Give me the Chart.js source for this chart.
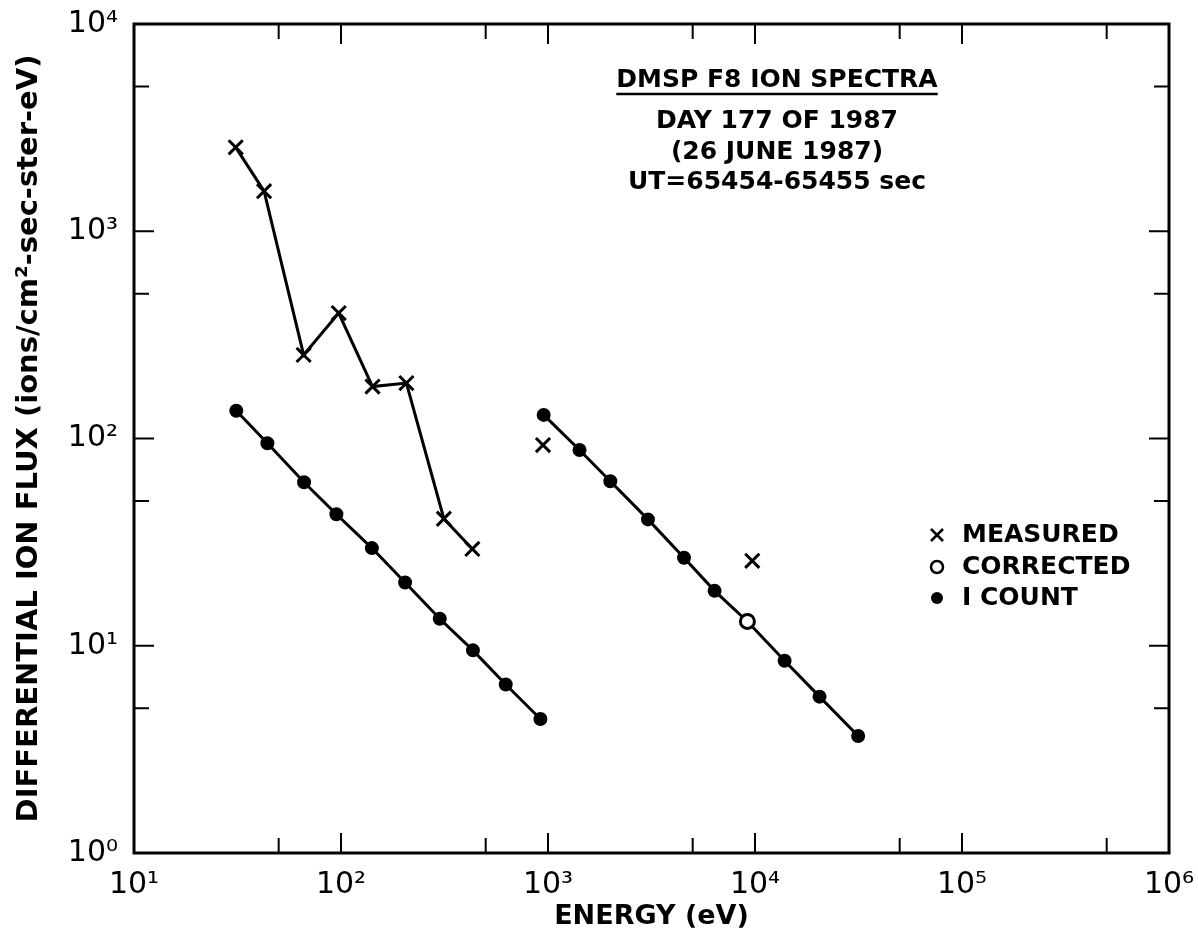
<!DOCTYPE html>
<html>
<head>
<meta charset="utf-8">
<title>DMSP F8 ion spectra</title>
<script src="https://cdn.jsdelivr.net/npm/chart.js@4"></script>
<style>
  html, body { margin: 0; padding: 0; background: #fff; }
  #wrap { width: 1198px; height: 943px; }
</style>
</head>
<body>
<div id="wrap"><canvas id="spectra" width="1198" height="943"></canvas></div>
<script>
// values (energy in eV, flux in ions/cm2-sec-ster-eV)
const measuredEnergy = [31, 42.5, 66, 97.5, 142, 207, 314, 431];
const measuredFlux = [2540, 1560, 253, 403, 178, 185, 41, 29.3];
const measuredLoneEnergy = [946, 9700];
const measuredLoneFlux = [93, 25.7];

const countLowEnergy = [31.2, 44.1, 66.3, 95, 141, 204, 300, 434, 625, 919];
const countLowFlux = [136, 94.8, 61.5, 43.1, 29.6, 20.2, 13.5, 9.5, 6.5, 4.43];
const countHighEnergy = [953, 1420, 2000, 3040, 4540, 6380, 9190, 13900, 20500, 31500];
const countHighFlux = [130, 88, 62.2, 40.7, 26.6, 18.4, 13.1, 8.47, 5.68, 3.67];

const correctedEnergy = [9190];
const correctedFlux = [13.1];

// axis decades
const xDecades = [1, 2, 3, 4, 5, 6];
const yDecades = [0, 1, 2, 3, 4];
const supDigits = ['⁰', '¹', '²', '³', '⁴', '⁵', '⁶'];

const titleLines = ['DMSP F8 ION SPECTRA', 'DAY 177 OF 1987', '(26 JUNE 1987)', 'UT=65454-65455 sec'];
const legendLabels = ['MEASURED', 'CORRECTED', 'I COUNT'];

const FONT = '"DejaVu Sans", sans-serif';
const INK = '#000';

function toPoints(xs, ys) {
  return xs.map((x, i) => ({ x: x, y: ys[i] }));
}

function decadeLabel(v) {
  const n = Math.round(Math.log10(v));
  return '10' + supDigits[n];
}

// frame with inward ticks on all four sides
const frameTicks = {
  id: 'frameTicks',
  afterDatasetsDraw(chart) {
    const { ctx, chartArea: a, scales } = chart;
    ctx.save();
    ctx.strokeStyle = INK;
    ctx.lineWidth = 3;
    ctx.strokeRect(a.left, a.top, a.right - a.left, a.bottom - a.top);
    ctx.lineWidth = 2;
    ctx.beginPath();
    xDecades.forEach(d => {
      [[Math.pow(10, d), 20], [5 * Math.pow(10, d), 15]].forEach(([v, len]) => {
        if (v > scales.x.max) return;
        const px = scales.x.getPixelForValue(v);
        ctx.moveTo(px, a.bottom); ctx.lineTo(px, a.bottom - len);
        ctx.moveTo(px, a.top); ctx.lineTo(px, a.top + len);
      });
    });
    yDecades.forEach(d => {
      [[Math.pow(10, d), 20], [5 * Math.pow(10, d), 15]].forEach(([v, len]) => {
        if (v > scales.y.max) return;
        const py = scales.y.getPixelForValue(v);
        ctx.moveTo(a.left, py); ctx.lineTo(a.left + len, py);
        ctx.moveTo(a.right, py); ctx.lineTo(a.right - len, py);
      });
    });
    ctx.stroke();
    ctx.restore();
  }
};

// title block and key drawn inside the plot
const notes = {
  id: 'notes',
  afterDraw(chart) {
    const { ctx } = chart;
    ctx.save();
    ctx.fillStyle = INK;
    ctx.strokeStyle = INK;
    ctx.textAlign = 'center';
    ctx.textBaseline = 'middle';
    ctx.font = 'bold 25px ' + FONT;
    const cx = 777;
    const ys = [80, 121, 152, 182];
    titleLines.forEach((t, i) => ctx.fillText(t, cx, ys[i]));
    const w = ctx.measureText(titleLines[0]).width;
    ctx.lineWidth = 2.5;
    ctx.beginPath();
    ctx.moveTo(cx - w / 2, 94); ctx.lineTo(cx + w / 2, 94);
    ctx.stroke();

    // key
    ctx.textAlign = 'left';
    ctx.font = 'bold 25px ' + FONT;
    const mx = 937, tx = 962;
    const ky = [535, 567, 598];
    legendLabels.forEach((t, i) => ctx.fillText(t, tx, ky[i]));
    ctx.lineWidth = 2.5;
    ctx.beginPath();
    ctx.moveTo(mx - 6, ky[0] - 6); ctx.lineTo(mx + 6, ky[0] + 6);
    ctx.moveTo(mx + 6, ky[0] - 6); ctx.lineTo(mx - 6, ky[0] + 6);
    ctx.stroke();
    ctx.beginPath();
    ctx.arc(mx, ky[1], 6, 0, Math.PI * 2);
    ctx.stroke();
    ctx.beginPath();
    ctx.arc(mx, ky[2], 6, 0, Math.PI * 2);
    ctx.fill();
    ctx.restore();
  }
};

const lineStyle = { borderColor: INK, backgroundColor: INK, borderWidth: 3, showLine: true };

new Chart(document.getElementById('spectra'), {
  type: 'scatter',
  data: {
    datasets: [
      // first dataset is drawn on top
      { label: 'CORRECTED', data: toPoints(correctedEnergy, correctedFlux),
        showLine: false, pointStyle: 'circle', pointRadius: 7, pointBorderWidth: 3,
        borderColor: INK, backgroundColor: '#fff', pointBackgroundColor: '#fff' },
      Object.assign({ label: 'I COUNT low', data: toPoints(countLowEnergy, countLowFlux),
        pointStyle: 'circle', pointRadius: 5.5, pointBackgroundColor: INK }, lineStyle),
      Object.assign({ label: 'I COUNT high', data: toPoints(countHighEnergy, countHighFlux),
        pointStyle: 'circle', pointRadius: 5.5, pointBackgroundColor: INK }, lineStyle),
      Object.assign({ label: 'MEASURED', data: toPoints(measuredEnergy, measuredFlux),
        pointStyle: 'crossRot', pointRadius: 10, pointBorderWidth: 3 }, lineStyle),
      { label: 'MEASURED single', data: toPoints(measuredLoneEnergy, measuredLoneFlux),
        showLine: false, pointStyle: 'crossRot', pointRadius: 10, pointBorderWidth: 3,
        borderColor: INK, backgroundColor: INK }
    ]
  },
  options: {
    responsive: false,
    animation: false,
    layout: { padding: { top: 24, right: 29, left: 0, bottom: 0 } },
    plugins: { legend: { display: false }, tooltip: { enabled: false } },
    scales: {
      x: {
        type: 'logarithmic',
        min: 10, max: 1e6,
        border: { display: false },
        grid: { display: false, drawTicks: false },
        afterBuildTicks: s => { s.ticks = xDecades.map(d => ({ value: Math.pow(10, d) })); },
        afterFit: s => { s.height = 90; s.paddingLeft = 0; s.paddingRight = 0; },
        ticks: { color: INK, padding: 14, maxRotation: 0, autoSkip: false,
          font: { family: FONT, size: 30 }, callback: v => decadeLabel(v) },
        title: { display: true, text: 'ENERGY (eV)', color: INK,
          font: { family: FONT, size: 27, weight: 'bold' }, padding: { bottom: 10 } }
      },
      y: {
        type: 'logarithmic',
        min: 1, max: 1e4,
        border: { display: false },
        grid: { display: false, drawTicks: false },
        afterBuildTicks: s => { s.ticks = yDecades.map(d => ({ value: Math.pow(10, d) })); },
        afterFit: s => { s.width = 134; s.paddingTop = 0; s.paddingBottom = 0; },
        ticks: { color: INK, padding: 16, autoSkip: false,
          font: { family: FONT, size: 30 }, callback: v => decadeLabel(v) },
        title: { display: true, text: 'DIFFERENTIAL ION FLUX (ions/cm²-sec-ster-eV)', color: INK,
          font: { family: FONT, size: 29, weight: 'bold' }, padding: { top: 12 } }
      }
    }
  },
  plugins: [frameTicks, notes]
});
</script>
</body>
</html>
